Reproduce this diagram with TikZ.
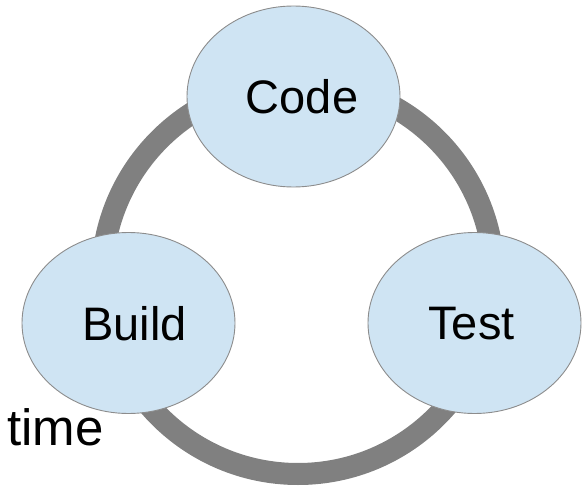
\documentclass[tikz,border=0pt]{standalone}
\usepackage{fontspec}
\setmainfont{Liberation Sans}
\usetikzlibrary{shapes.geometric}
\definecolor{stage}{HTML}{CFE4F3}
\definecolor{stageedge}{HTML}{8C8C8C}
\definecolor{loopgray}{HTML}{808080}
\tikzset{
  stagebox/.style={ellipse, draw=stageedge, line width=0.9pt, fill=stage,
    minimum width=213pt, minimum height=181pt, inner sep=0pt},
  stagetext/.style={font=\fontsize{47}{54}\selectfont, inner sep=0pt},
  cycle ring/.style={draw=loopgray, line width=22pt}
}
\begin{document}
\begin{tikzpicture}[x=1pt, y=-1pt]
  \useasboundingbox (0,0) rectangle (584,487);
  % the loop behind the three stages
  \coordinate (ringc) at (298,278);
  \draw[cycle ring] (ringc) circle [radius=196pt];
  % stages
  \node[stagebox] (code)  at (293.5,96.5) {};
  \node[stagebox] (build) at (128.5,323) {};
  \node[stagebox] (test)  at (474.5,323) {};
  \node[stagetext] (codet)  at (302,97)   {Code};
  \node[stagetext] (buildt) at (134.5,324) {Build};
  \node[stagetext] (testt)  at (471.5,324) {Test};
  \node[stagetext, font=\fontsize{51}{58}\selectfont, anchor=base west] (time) at (7,445) {time};
\end{tikzpicture}
\end{document}
